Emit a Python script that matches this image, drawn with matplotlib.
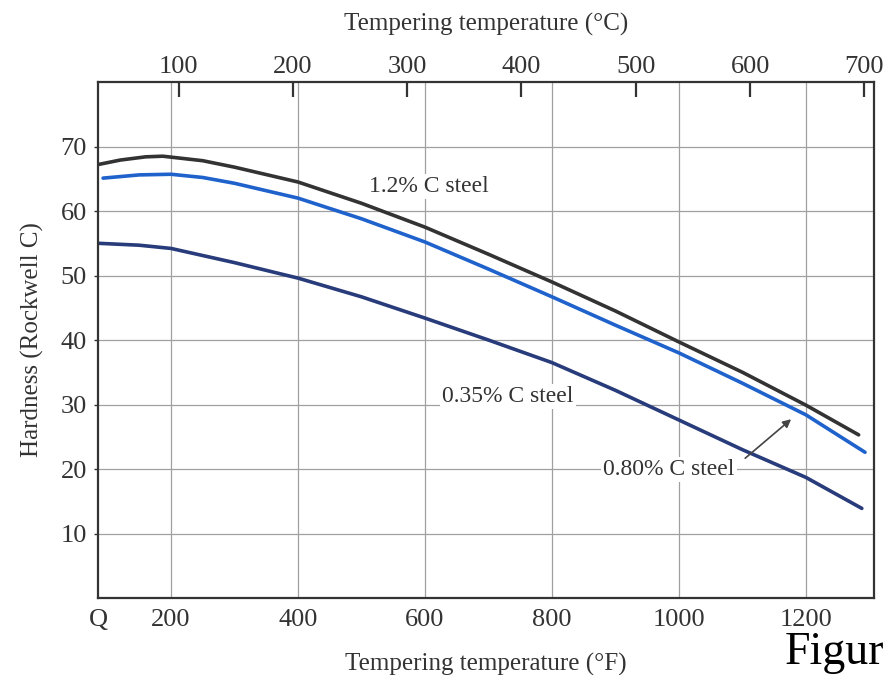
import numpy as np
import matplotlib
matplotlib.use("Agg")
import matplotlib.pyplot as plt

plt.rcParams['font.family'] = ['Liberation Serif', 'DejaVu Serif']

# tempering temperature (F) and hardness (Rockwell C)
temp_hi = [85, 120, 160, 187, 250, 300, 400, 500, 600, 700, 800, 900, 1000, 1100, 1200, 1283]
hrc_hi = [67.2, 67.9, 68.4, 68.5, 67.8, 66.8, 64.5, 61.2, 57.5, 53.3, 49.0, 44.5, 39.7, 35.0, 29.9, 25.3]

temp_mid = [93, 150, 200, 250, 300, 400, 500, 600, 700, 800, 900, 1000, 1100, 1200, 1293]
hrc_mid = [65.1, 65.6, 65.7, 65.2, 64.3, 62.0, 58.8, 55.2, 51.0, 46.7, 42.3, 38.0, 33.3, 28.4, 22.6]

temp_lo = [85, 150, 200, 300, 400, 500, 600, 700, 800, 900, 1000, 1100, 1200, 1288]
hrc_lo = [55.0, 54.7, 54.2, 52.0, 49.6, 46.7, 43.4, 40.0, 36.5, 32.2, 27.6, 23.0, 18.7, 13.9]

f_ticks = [200, 400, 600, 800, 1000, 1200]
c_ticks = [100, 200, 300, 400, 500, 600, 700]
y_ticks = [10, 20, 30, 40, 50, 60, 70]

fig = plt.figure(figsize=(8.89, 6.75), dpi=100)
ax = fig.add_axes([0.1102, 0.114, 0.8728, 0.7645])

ax.plot(temp_hi, hrc_hi, color='#333333', lw=2.6, solid_capstyle='round')
ax.plot(temp_mid, hrc_mid, color='#1f62cc', lw=2.6, solid_capstyle='round')
ax.plot(temp_lo, hrc_lo, color='#283b7a', lw=2.6, solid_capstyle='round')

ax.set_xlim(85, 1307)
ax.set_ylim(0, 80)
ax.set_xticks([85] + f_ticks)
ax.set_xticklabels(['Q'] + [str(t) for t in f_ticks])
ax.set_yticks(y_ticks)
ax.tick_params(axis='x', length=0, pad=8, labelsize=19, colors='#333333')
ax.tick_params(axis='y', length=3, width=1, pad=5, labelsize=19, colors='#333333')

for t in f_ticks:
    ax.axvline(t, color='#a0a0a0', lw=0.9, zorder=0)
for t in y_ticks:
    ax.axhline(t, color='#a0a0a0', lw=0.9, zorder=0)

for s in ax.spines.values():
    s.set_color('#333333')
    s.set_linewidth(1.6)

sec = ax.secondary_xaxis('top', functions=(lambda f: (f - 32) * 5 / 9,
                                           lambda c: c * 9 / 5 + 32))
sec.set_xticks(c_ticks)
sec.tick_params(direction='in', length=11, width=1.6, pad=3, labelsize=19,
                colors='#333333')
sec.spines['top'].set_visible(False)
sec.set_xlabel('Tempering temperature (°C)', fontsize=18, color='#333333', labelpad=18)

ax.set_xlabel('Tempering temperature (°F)', fontsize=18, color='#333333', labelpad=16)
ax.set_ylabel('Hardness (Rockwell C)', fontsize=18, color='#333333', labelpad=12)

box = dict(facecolor='white', edgecolor='none', pad=1.5)
ax.text(606, 63.8, '1.2% C steel', fontsize=17, color='#333333', ha='center',
        va='center', bbox=box)
ax.text(731, 31.2, '0.35% C steel', fontsize=17, color='#333333', ha='center',
        va='center', bbox=box)
ax.text(984, 19.9, '0.80% C steel', fontsize=17, color='#333333', ha='center',
        va='center', bbox=box)
ax.annotate('', xy=(1180, 28.0), xytext=(1101, 21.4),
            arrowprops=dict(arrowstyle='-|>', color='#444444', lw=1.2,
                            mutation_scale=12))

fig.text(785 / 889, 1 - 664 / 675, 'Figur', fontsize=33, color='black',
         ha='left', va='baseline')

fig.savefig('out.png', dpi=100)
